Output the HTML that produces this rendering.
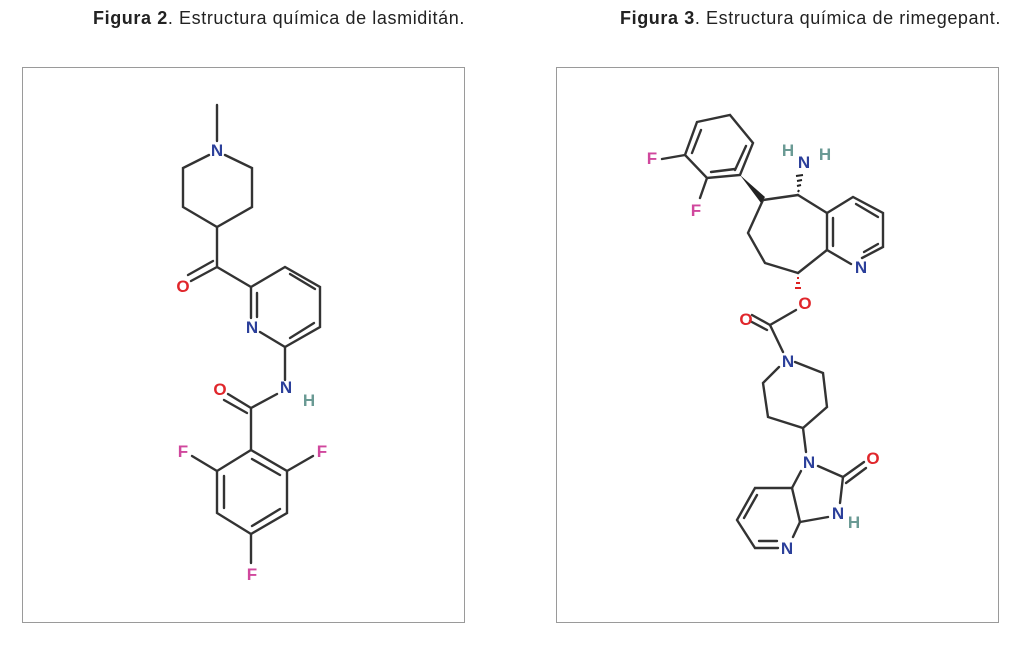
<!DOCTYPE html>
<html><head><meta charset="utf-8"><style>
html,body{margin:0;padding:0;background:#fff;}
body{width:1024px;height:649px;position:relative;overflow:hidden;font-family:"Liberation Sans",sans-serif;}
.t{position:absolute;top:8px;font-size:18px;letter-spacing:0.6px;color:#222;white-space:nowrap;}
.box{position:absolute;top:67px;width:443px;height:556px;border:1px solid #9a9a9a;box-sizing:border-box;}
svg{position:absolute;left:0;top:0;}
</style></head><body>
<div class="t" style="left:93px"><b>Figura 2</b>. Estructura química de lasmiditán.</div>
<div class="t" style="left:620px"><b>Figura 3</b>. Estructura química de rimegepant.</div>
<div class="box" style="left:22px"></div>
<div class="box" style="left:556px"></div>
<svg width="1024" height="649" viewBox="0 0 1024 649">
<g stroke="#333" stroke-width="2.4" fill="none" stroke-linecap="round">
<!-- lasmiditan -->
<line x1="217" y1="105" x2="217" y2="141"/>
<polyline points="209,155 183,168 183,207 217,227 252,207 252,168 225,155"/>
<line x1="217" y1="227" x2="217" y2="267"/>
<line x1="217" y1="267" x2="191" y2="281"/><line x1="213" y1="261" x2="188" y2="275"/>
<line x1="217" y1="267" x2="251" y2="287"/>
<polyline points="251,287 285,267 320,287 320,327 285,347 260,332"/>
<line x1="251" y1="287" x2="251" y2="318"/>
<line x1="257" y1="293" x2="257" y2="317"/>
<line x1="290" y1="274" x2="315" y2="289"/>
<line x1="314" y1="323" x2="290" y2="338"/>
<line x1="285" y1="347" x2="285" y2="380"/>
<line x1="277" y1="394" x2="251" y2="408"/>
<line x1="251" y1="408" x2="228" y2="394"/><line x1="247" y1="413" x2="224" y2="400"/>
<line x1="251" y1="408" x2="251" y2="450"/>
<polygon points="251,450 287,471 287,513 251,534 217,513 217,471"/>
<line x1="252" y1="459" x2="280" y2="475"/>
<line x1="224" y1="476" x2="224" y2="508"/>
<line x1="252" y1="526" x2="280" y2="509"/>
<line x1="287" y1="471" x2="313" y2="456"/>
<line x1="217" y1="471" x2="192" y2="456"/>
<line x1="251" y1="534" x2="251" y2="563"/>
<!-- rimegepant -->
<polygon points="697,122 730,115 753,143 740,175 707,178 685,155"/>
<line x1="692" y1="153" x2="701" y2="130"/>
<line x1="746" y1="146" x2="735" y2="170"/>
<line x1="711" y1="172" x2="735" y2="169"/>
<line x1="685" y1="155" x2="662" y2="159"/>
<line x1="707" y1="178" x2="700" y2="198"/>
<polyline points="763,200 748,233 765,263 798,273"/>
<line x1="763" y1="200" x2="798" y2="195"/>
<line x1="798" y1="195" x2="827" y2="213"/>
<polyline points="827,213 853,197 883,213 883,247 862,258"/>
<line x1="827" y1="213" x2="827" y2="250"/>
<line x1="833" y1="218" x2="833" y2="246"/>
<line x1="856" y1="204" x2="878" y2="217"/>
<line x1="878" y1="244" x2="864" y2="252"/>
<line x1="827" y1="250" x2="851" y2="264"/>
<line x1="827" y1="250" x2="798" y2="273"/>
<line x1="796" y1="310" x2="770" y2="325"/>
<line x1="770" y1="325" x2="752" y2="315"/><line x1="767" y1="330" x2="750" y2="321"/>
<line x1="770" y1="325" x2="783" y2="352"/>
<polyline points="779,367 763,383 768,417 803,428 827,407 823,373 795,362"/>
<line x1="803" y1="428" x2="806" y2="452"/>
<line x1="818" y1="466" x2="843" y2="477"/>
<line x1="843" y1="477" x2="864" y2="462"/><line x1="846" y1="483" x2="866" y2="468"/>
<line x1="843" y1="477" x2="840" y2="503"/>
<line x1="828" y1="517" x2="800" y2="522"/>
<line x1="801" y1="471" x2="792" y2="488"/>
<polyline points="792,488 755,488 737,520 755,548 778,548"/>
<line x1="792" y1="488" x2="800" y2="522"/>
<line x1="800" y1="522" x2="793" y2="537"/>
<line x1="757" y1="495" x2="744" y2="518"/>
<line x1="759" y1="541" x2="777" y2="541"/>
</g>
<polygon points="740,175 765,197 761,203" fill="#222"/>
<g stroke="#222" stroke-width="2">
<line x1="798" y1="192" x2="799" y2="190"/><line x1="797" y1="186" x2="801" y2="185"/><line x1="797" y1="181" x2="802" y2="180"/><line x1="796" y1="176" x2="803" y2="175"/>
</g>
<g stroke="#d22" stroke-width="2">
<line x1="797" y1="278" x2="799" y2="278"/><line x1="796" y1="283" x2="800" y2="283"/><line x1="795" y1="288" x2="801" y2="288"/>
</g>
<g font-family="Liberation Sans,sans-serif" font-weight="bold" font-size="17" text-anchor="middle">
<text x="217" y="156" fill="#2b3f9a">N</text>
<text x="183" y="292" fill="#e0262b">O</text>
<text x="252" y="333" fill="#2b3f9a">N</text>
<text x="286" y="393" fill="#2b3f9a">N</text>
<text x="309" y="406" fill="#6a9a94">H</text>
<text x="220" y="395" fill="#e0262b">O</text>
<text x="322" y="457" fill="#d0479d">F</text>
<text x="183" y="457" fill="#d0479d">F</text>
<text x="252" y="580" fill="#d0479d">F</text>
<text x="652" y="164" fill="#d0479d">F</text>
<text x="696" y="216" fill="#d0479d">F</text>
<text x="804" y="168" fill="#2b3f9a">N</text>
<text x="788" y="156" fill="#6a9a94">H</text>
<text x="825" y="160" fill="#6a9a94">H</text>
<text x="861" y="273" fill="#2b3f9a">N</text>
<text x="805" y="309" fill="#e0262b">O</text>
<text x="746" y="325" fill="#e0262b">O</text>
<text x="788" y="367" fill="#2b3f9a">N</text>
<text x="809" y="468" fill="#2b3f9a">N</text>
<text x="873" y="464" fill="#e0262b">O</text>
<text x="838" y="519" fill="#2b3f9a">N</text>
<text x="854" y="528" fill="#6a9a94">H</text>
<text x="787" y="554" fill="#2b3f9a">N</text>
</g>
</svg>
</body></html>
